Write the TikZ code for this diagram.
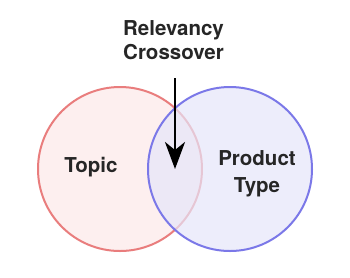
\documentclass[tikz,border=0pt]{standalone}
\usepackage{fontspec}
\setmainfont{TeX Gyre Heros}
\usetikzlibrary{arrows.meta}
\definecolor{topicline}{HTML}{E97D7D}
\definecolor{topicfill}{HTML}{FDEFEF}
\definecolor{typeline}{HTML}{7B78E8}
\definecolor{typefill}{HTML}{E6E6FA}
\definecolor{labeltext}{HTML}{262626}
\tikzset{
	setlabel/.style={font=\fontsize{20.5}{27.5}\selectfont\bfseries, text=labeltext, align=center}
}
\tikzset{
	crossarrow/.style={line width=2.6pt, -{Stealth[length=27pt, width=20pt, inset=8pt]}}
}

\begin{document}
\begin{tikzpicture}[x=1pt, y=-1pt]
      \useasboundingbox (0,0) rectangle (350,277);
      % the two sets
      \draw[topicline, line width=2pt, fill=topicfill] (120,169) circle (82pt);
      \draw[typeline, line width=2pt, fill=typefill, fill opacity=0.7] (230,169) circle (82pt);
      \node[setlabel] (topic) at (91,167) {Topic};
      \node[setlabel] (ptype) at (257,174) {Product\\Type};
      \node[setlabel, font=\fontsize{20.5}{24.5}\selectfont\bfseries] (cross) at (173.5,40) {Relevancy\\Crossover};
      % arrow into the overlap
      \coordinate (arrowtop) at (175,78);
      \coordinate (arrowtip) at (175,169);
      \draw[crossarrow] (arrowtop) -- (arrowtip);
    \end{tikzpicture}
\end{document}
